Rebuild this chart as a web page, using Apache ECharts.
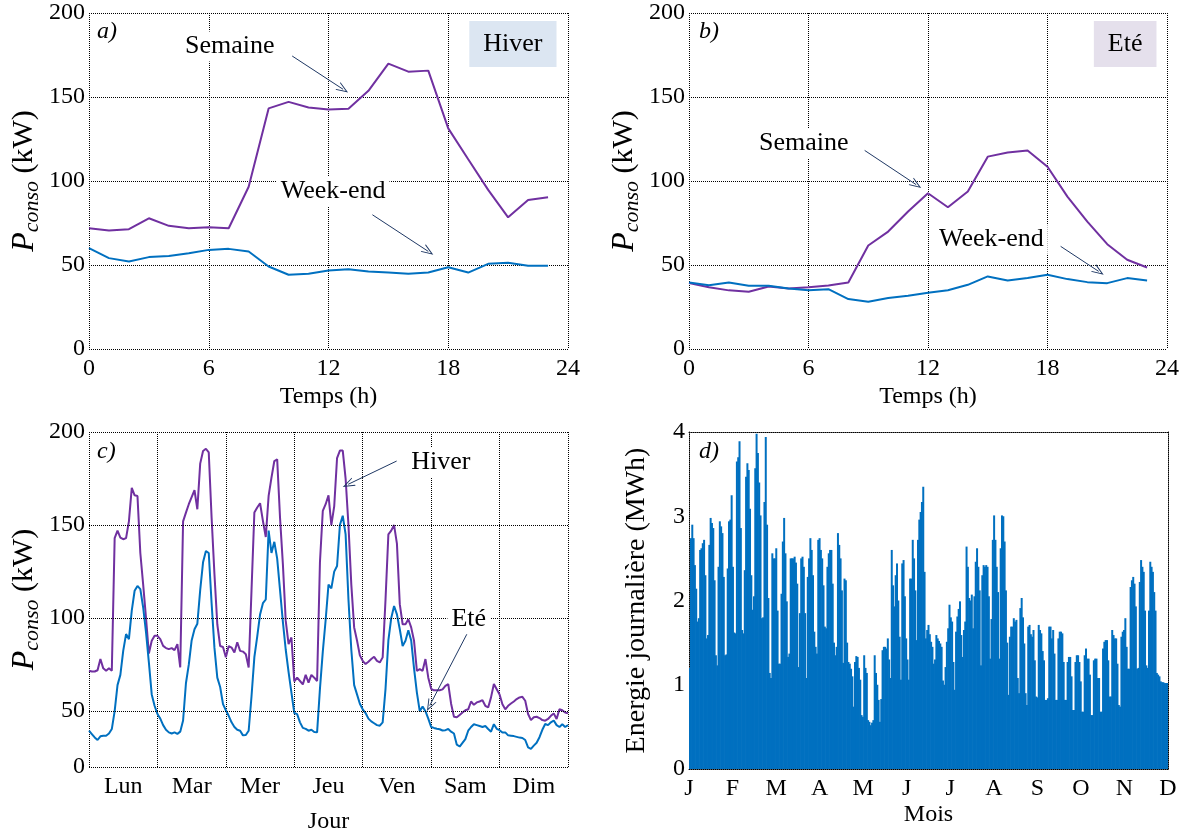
<!DOCTYPE html>
<html><head><meta charset="utf-8">
<script src="https://cdn.jsdelivr.net/npm/echarts@6/dist/echarts.min.js"></script>
<style>html,body{margin:0;padding:0;background:#fff}#c{width:1192px;height:835px}</style>
</head><body><div id="c"></div>
<script>
// ---------- DATA ----------
const hours = [0,1,2,3,4,5,6,7,8,9,10,11,12,13,14,15,16,17,18,19,20,21,22,23];
const hiverSemaine = [71.9,70.5,71.3,77.8,73.3,71.9,72.5,71.9,96.6,143.2,147.1,143.8,142.6,143,153.7,169.9,165.1,165.7,131.3,112.9,94.7,78.4,88.7,90.3];
const hiverWeekend = [60,54.1,52.1,54.7,55.4,57,59,59.6,58,49.1,44.2,44.8,46.7,47.5,46.1,45.5,44.8,45.5,48.7,45.5,50.7,51.3,49.5,49.5];
const eteSemaine = [39.2,36.8,34.9,34.1,37.2,36,36.8,37.8,39.6,61.6,69.9,81.8,92.7,84.4,93.7,114.5,117,118.2,108.5,90.7,75.8,62.4,53.1,48.5];
const eteWeekend = [39.6,38,39.6,37.6,37.6,36,34.9,35.6,29.7,28.1,30.3,31.7,33.5,35,38.2,43.2,40.8,42.2,44.2,41.6,39.8,39.2,42.2,40.8];

const jours = ['Lun','Mar','Mer','Jeu','Ven','Sam','Dim'];
const semaineHiver = [
 71.7,71.3,71.3,72,78,73,71.7,73,71.7,143,147,143.3,142.4,143,152,170,166,165.6,135,118,100,81,87.8,90.5,
 90.5,88.7,85.1,83.9,83.3,83.9,82.8,86,73.5,152,156.7,161.2,165,168.7,158.5,183,189.8,191,189,154,123.6,96.7,85,84.5,
 79,85,84.2,81.5,87,82.4,82,80.6,73.5,115,156.7,159.4,161.7,152.2,143.6,165.7,175.5,184.4,185.3,154,129,98.5,86,89.6,
 66,68,66.2,64.4,69.5,65.3,69.5,68,66.2,130,157.6,161.2,166,150,160,186,190,190,175,150,118,95,88,80,
 77,75.3,76.6,78,79.2,77,76.2,78.9,110,145,147,150,140,107.5,96.7,96.7,99.4,95,87.8,71.7,72.6,71.7,78,68,
 62,61.2,61.2,61.2,61.7,63.6,64.5,54,47,46.7,48,49.3,50.5,51,55.2,53.4,54.7,55.2,55.9,52.9,52,57.4,64.6,61.8,
 59,53.7,51,52.9,54.1,55.2,56.5,57.4,57.7,55.6,48.5,45.2,46.7,47,46.3,45.2,44.9,45.8,47.5,48.8,45.8,51,50.5,49.3,
 48.8];
const semaineEte = [
 39.5,37.7,35.9,34.5,36.5,36.8,36.8,38,40.4,50,64,69.5,82.4,91.4,88.7,104,114.7,117.3,115.6,105.7,92.3,76.2,59,52.9,
 48.5,46,42.5,40,38.6,38,38.6,37.8,39,45,65,75,88,94,97,115,130,136,135,108,84,68,63,53.8,
 50.5,47.5,44,41.5,40,39.5,37,37.2,39.5,58,79,90,102,108,110,147,135,141,132,115,98,83,71,60,
 49,48.4,44,41,40.5,39.5,40,38.8,38.6,62,82,99,118,116,125,128,150,155,145,110,83,64,59,54,
 51,49,46,44.5,43.5,42.5,42.2,44,62,88,100,106.5,102,94,85,87.8,93.5,88,73,60,50,52.5,50,46,
 41.5,41,40.6,40.3,39.6,39.8,40.4,39,38,32,31,33,35,39.5,41.5,43,42.5,42,41.5,42,40.4,39,43,40.5,
 39.8,38.5,38.6,37,36.8,36.6,36.2,35.8,35.6,34.5,30.5,29.7,31.5,33,36,40,43.1,42.5,44,45,42.5,41.5,43,41.5,
 42.5];

const mois = ['J','F','M','A','M','J','J','A','S','O','N','D'];
const energieJour = [
 1.2,2.74,2.9,2.74,2.42,2.14,1.75, 1.79,2.6,2.62,2.68,2.72,2.3,1.55, 1.59,2.66,2.98,2.92,2.86,2.24,1.35,
 1.23,2.4,2.94,2.88,2.8,2.28,1.35, 1.36,2.38,2.94,2.96,3.25,2.4,1.62, 1.61,3.65,3.7,3.89,2.86,1.65,1.61,
 2.36,3.47,3.63,3.55,3.09,2.3,1.89, 2.05,3.57,3.98,3.75,3.4,3.01,1.79, 1.8,3.17,3.94,2.9,2.03,1.14,1.08,
 2.56,2.5,2.5,2.62,1.88,1.25,1.25, 2.08,2.7,2.98,2.56,1.99,1.33,1.37, 2.5,2.5,2.5,2.52,2.45,2.2,1.21,
 1.85,2.5,2.52,2.4,1.85,1.08,2.28, 2.5,2.74,2.6,2.3,1.63,1.45,1.37, 2.72,2.74,2.6,2.5,2.18,1.69,1.67,
 2.4,2.56,2.6,2.6,2.2,1.5,1.35, 1.45,2.8,2.66,2.5,2.12,1.26,2.26, 2.24,1.5,1.27,1.25,1.19,1.1,0.74,
 1.27,1.34,1.33,1.2,1.06,0.64,0.62, 1.35,1.2,1.14,0.58,0.56,0.52,0.55, 0.58,1.35,1.14,1.0,0.82,0.56,0.83,
 1.41,1.45,1.45,1.43,1.55,1.3,1.08, 2.6,2.18,1.93,2.3,2.44,2.0,1.57, 1.06,2.44,2.48,2.05,1.55,1.3,1.06,
 2.26,2.26,2.72,2.5,2.12,1.53,2.72, 2.96,3.05,3.17,3.35,2.34,1.55,1.65, 1.71,1.6,1.51,1.45,1.25,1.3,1.59,
 1.55,1.52,1.49,1.45,1.05,1.0,1.21, 1.51,1.67,1.95,1.8,1.75,1.27,0.94, 1.63,1.81,1.9,1.99,1.59,1.33,1.65,
 1.75,2.64,2.4,2.03,2.0,2.07,1.67, 2.05,2.46,2.62,2.4,2.12,1.23,2.3, 2.42,2.4,2.42,2.4,2.05,1.31,1.78,
 2.72,3.01,2.72,2.4,2.1,1.31,2.62, 3.01,3.0,2.7,2.12,1.5,0.88,1.57, 1.69,1.69,1.79,1.75,1.77,1.08,0.9,
 1.91,2.03,1.8,1.49,0.9,0.76,1.69, 1.71,1.6,1.57,1.65,1.29,0.86,0.85, 1.71,1.65,1.61,1.4,1.29,0.82,0.82,
 0.84,1.69,1.69,1.55,1.65,1.37,0.82, 0.82,1.55,1.63,1.63,1.61,1.27,0.82, 0.82,1.27,1.33,1.33,1.1,0.7,0.7,
 1.27,1.35,1.35,1.27,1.04,0.68,0.68, 1.35,1.43,1.31,1.31,1.12,0.64,0.64, 1.29,1.31,1.31,1.08,1.08,0.68,0.68,
 1.43,1.51,1.53,1.53,1.29,0.86,0.86, 1.65,1.59,1.55,1.55,1.25,0.76,0.74, 1.57,1.63,1.65,1.79,1.45,1.19,1.19,
 2.16,2.24,2.28,2.2,1.93,1.19,1.2, 2.22,2.48,2.4,2.34,1.88,1.23,1.2, 1.88,2.46,2.4,2.34,2.1,1.88,1.14,
 1.12,1.1,1.04,1.03,1.03,1.02,1.02, 1.02];

// ---------- STYLE ----------
const F = "'Liberation Serif','Times New Roman',serif";
const PURPLE = '#7030a0', BLUE = '#0070c0', ARROWC = '#1f3864';
const dot = {type:'dotted', color:'#000', width:1};
const ARROW = 'path://M5,0 L10,10 L8.9,10 L5,2.3 L1.1,10 L0,10 Z';
const lab = m => ({fontSize:24, fontFamily:F, color:'#000', margin:m});
const nm = {fontSize:24, fontFamily:F, color:'#000'};
const yName = () => ({
  name:'{p|P}{s|conso}{n| (kW)}', nameLocation:'middle', nameGap:46, nameRotate:90,
  nameTextStyle:{color:'#000', fontFamily:F, rich:{
    p:{fontSize:32, fontStyle:'italic', fontFamily:F, color:'#000'},
    s:{fontSize:22, fontStyle:'italic', fontFamily:F, color:'#000', padding:[15,0,0,0]},
    n:{fontSize:30, fontFamily:F, color:'#000'}}}
});
const txt = (coord, name, bg, pad) => ({coord, name, label:{backgroundColor:bg||'#fff', padding:pad||[2,4]}});
const arrow = (a, b) => [{coord:a}, {coord:b}];
const annot = (xi, yi, points, arrows) => ({
  type:'scatter', xAxisIndex:xi, yAxisIndex:yi, data:[], z:10, silent:true,
  markPoint:{symbol:'rect', symbolSize:1, itemStyle:{color:'rgba(0,0,0,0)'},
    label:{show:true, position:'inside', formatter:'{b}', color:'#000', fontSize:26, fontFamily:F},
    data:points},
  markLine:{silent:true, symbol:['none', ARROW], symbolSize:[9,12],
    lineStyle:{color:ARROWC, width:1, type:'solid'}, label:{show:false}, data:arrows}
});
const line = (xi, yi, xs, ys, color) => ({
  type:'line', xAxisIndex:xi, yAxisIndex:yi, showSymbol:false, symbol:'none',
  lineStyle:{color, width:2}, itemStyle:{color}, z:3,
  data: ys.map((v,i) => [xs[i], v])
});
const idx = a => a.map((_, i) => i);
const hoursWeek = idx(semaineHiver);
const dayIdx = energieJour.map((_, i) => String(i + 1));

const option = {
  animation:false,
  backgroundColor:'#fff',
  grid:[
    {left:89, top:13, width:479, height:336},
    {left:689, top:13, width:478, height:336},
    {left:89, top:432, width:479, height:336},
    {left:689, top:432, width:479, height:337}
  ],
  graphic:[
    {type:'text', left:97, top:20, style:{text:'a)', font:'italic 24px '+F, fill:'#000'}},
    {type:'text', left:699, top:20, style:{text:'b)', font:'italic 24px '+F, fill:'#000'}},
    {type:'text', left:97, top:440, style:{text:'c)', font:'italic 24px '+F, fill:'#000'}},
    {type:'text', left:699, top:440, style:{text:'d)', font:'italic 24px '+F, fill:'#000'}}
  ],
  xAxis:[
    {gridIndex:0, type:'value', min:0, max:24, interval:6, axisLine:{show:false}, axisTick:{show:false},
     splitLine:{show:true, lineStyle:dot}, axisLabel:lab(8), name:'Temps (h)', nameLocation:'middle', nameGap:36, nameTextStyle:nm},
    {gridIndex:1, type:'value', min:0, max:24, interval:6, axisLine:{show:false}, axisTick:{show:false},
     splitLine:{show:true, lineStyle:dot}, axisLabel:lab(8), name:'Temps (h)', nameLocation:'middle', nameGap:36, nameTextStyle:nm},
    {gridIndex:2, type:'value', position:'bottom', min:0, max:168, interval:24, axisLine:{show:false}, axisTick:{show:false},
     splitLine:{show:true, lineStyle:dot}, axisLabel:{show:false}},
    {gridIndex:2, type:'category', position:'bottom', data:jours, boundaryGap:true, axisLine:{show:false}, axisTick:{show:false},
     splitLine:{show:false}, axisLabel:Object.assign(lab(8), {interval:0}), name:'Jour', nameLocation:'middle', nameGap:43, nameTextStyle:nm},
    {gridIndex:3, type:'category', position:'bottom', data:dayIdx, axisLine:{show:true, onZero:false, lineStyle:dot},
     axisTick:{show:false}, axisLabel:{show:false}, splitLine:{show:false}},
    {gridIndex:3, type:'category', position:'bottom', data:mois, boundaryGap:false, axisLine:{show:false}, axisTick:{show:false},
     splitLine:{show:false}, axisLabel:Object.assign(lab(8), {interval:0}), name:'Mois', nameLocation:'middle', nameGap:34, nameTextStyle:nm},
    {gridIndex:3, type:'value', position:'top', min:0, max:1, axisLine:{show:true, onZero:false, lineStyle:dot},
     axisTick:{show:false}, axisLabel:{show:false}, splitLine:{show:false}}
  ],
  yAxis:[
    Object.assign({gridIndex:0, type:'value', min:0, max:200, interval:50, axisLine:{show:false}, axisTick:{show:false},
     splitLine:{show:true, lineStyle:dot}, axisLabel:lab(4)}, yName()),
    Object.assign({gridIndex:1, type:'value', min:0, max:200, interval:50, axisLine:{show:false}, axisTick:{show:false},
     splitLine:{show:true, lineStyle:dot}, axisLabel:lab(4)}, yName()),
    Object.assign({gridIndex:2, type:'value', min:20, max:200, interval:10, axisLine:{show:false}, axisTick:{show:false},
     splitLine:{show:false}, axisLabel:Object.assign(lab(4), {showMinLabel:true, showMaxLabel:true,
       formatter: v => v === 20 ? '0' : (v % 50 === 0 ? String(v) : '')})}, yName()),
    {gridIndex:3, type:'value', min:0, max:4, interval:1, axisLine:{show:true, onZero:false, lineStyle:dot}, axisTick:{show:false},
     splitLine:{show:false}, axisLabel:lab(4), name:'Energie journalière (MWh)', nameLocation:'middle', nameGap:38, nameRotate:90,
     nameTextStyle:{fontSize:28, fontFamily:F, color:'#000'}},
    {gridIndex:3, type:'value', position:'right', min:0, max:1, axisLine:{show:true, onZero:false, lineStyle:dot},
     axisTick:{show:false}, axisLabel:{show:false}, splitLine:{show:false}}
  ],
  series:[
    // panel a
    line(0, 0, hours, hiverSemaine, PURPLE),
    line(0, 0, hours, hiverWeekend, BLUE),
    annot(0, 0, [
      txt([7.05, 180], 'Semaine'),
      txt([12.23, 93.8], 'Week-end'),
      txt([21.24, 181.5], 'Hiver', '#dce6f2', [10, 14])
    ], [arrow([10.18, 174.4], [12.73, 154.6]), arrow([14.2, 79.9], [17.0, 58.1])]),
    // panel b
    line(1, 1, hours, eteSemaine, PURPLE),
    line(1, 1, hours, eteWeekend, BLUE),
    annot(1, 1, [
      txt([5.76, 122.6], 'Semaine'),
      txt([15.18, 65.1], 'Week-end'),
      txt([21.9, 181.5], 'Eté', '#e5e0ec', [10, 14])
    ], [arrow([8.82, 118.2], [11.41, 97.8]), arrow([18.66, 61.1], [20.57, 46.2])]),
    // panel c grid lines
    {type:'line', xAxisIndex:2, yAxisIndex:2, data:[], z:1, silent:true,
     markLine:{silent:true, symbol:['none','none'], lineStyle:dot, label:{show:false},
       data:[{yAxis:20},{yAxis:50},{yAxis:100},{yAxis:150},{yAxis:200}]}},
    line(2, 2, hoursWeek, semaineHiver, PURPLE),
    line(2, 2, hoursWeek, semaineEte, BLUE),
    annot(2, 2, [
      txt([123.4, 183.7], 'Hiver'),
      txt([133.2, 99.4], 'Eté')
    ], [arrow([107.9, 184.4], [90.9, 171.9]), arrow([132.9, 92.5], [119.5, 53])]),
    // panel d
    {type:'bar', xAxisIndex:4, yAxisIndex:3, data:energieJour, barWidth:2, barGap:'-100%',
     itemStyle:{color:BLUE}, silent:true, z:2}
  ]
};
const chart = echarts.init(document.getElementById('c'));
chart.setOption(option);
</script>
</body></html>
